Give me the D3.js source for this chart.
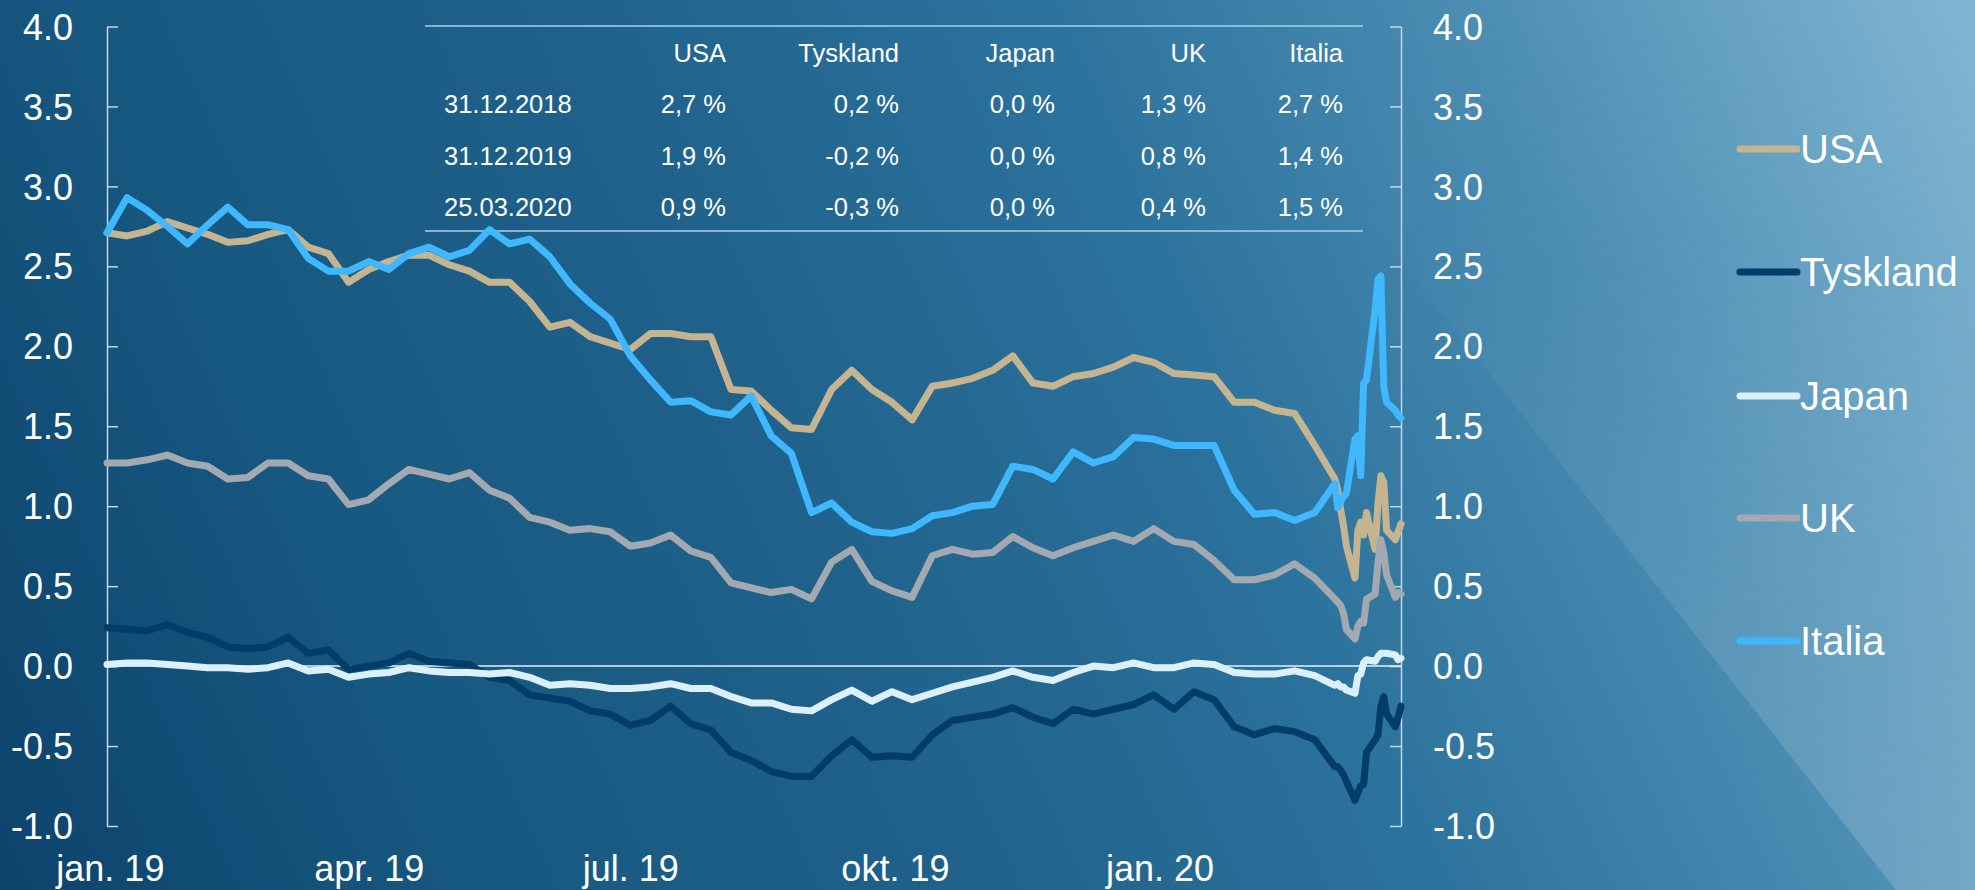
<!DOCTYPE html>
<html>
<head>
<meta charset="utf-8">
<script src="https://cdn.jsdelivr.net/npm/d3@7"></script>
<style>
  body { margin: 0; overflow: hidden; background: #0b416a; }
  svg { display: block; font-family: "Liberation Sans", Arial, sans-serif; }
</style>
</head>
<body>
<div id="chart"></div>
<script>
// 10-year government bond yields, USA / Tyskland / Japan / UK / Italia
(function () {
  ///////////////////////////////////////////////////////////// ! Data
  // weekly observations (mondays) + daily in march 2020
  const dates = [
    "2018-12-31", "2019-01-07", "2019-01-14", "2019-01-21", "2019-01-28", "2019-02-04", "2019-02-11", "2019-02-18",
    "2019-02-25", "2019-03-04", "2019-03-11", "2019-03-18", "2019-03-25", "2019-04-01", "2019-04-08", "2019-04-15",
    "2019-04-22", "2019-04-29", "2019-05-06", "2019-05-13", "2019-05-20", "2019-05-27", "2019-06-03", "2019-06-10",
    "2019-06-17", "2019-06-24", "2019-07-01", "2019-07-08", "2019-07-15", "2019-07-22", "2019-07-29", "2019-08-05",
    "2019-08-12", "2019-08-19", "2019-08-26", "2019-09-02", "2019-09-09", "2019-09-16", "2019-09-23", "2019-09-30",
    "2019-10-07", "2019-10-14", "2019-10-21", "2019-10-28", "2019-11-04", "2019-11-11", "2019-11-18", "2019-11-25",
    "2019-12-02", "2019-12-09", "2019-12-16", "2019-12-23", "2019-12-30", "2020-01-06", "2020-01-13", "2020-01-20",
    "2020-01-27", "2020-02-03", "2020-02-10", "2020-02-17", "2020-02-24",
    "2020-03-02", "2020-03-03", "2020-03-04", "2020-03-05", "2020-03-06", "2020-03-09", "2020-03-10", "2020-03-11",
    "2020-03-12", "2020-03-13", "2020-03-16", "2020-03-17", "2020-03-18", "2020-03-19", "2020-03-20", "2020-03-23",
    "2020-03-24", "2020-03-25",
  ];

  const usa = [
    2.71, 2.69, 2.72, 2.78, 2.74, 2.70, 2.65, 2.66, 2.70, 2.73,
    2.62, 2.58, 2.40, 2.48, 2.53, 2.57, 2.57, 2.51, 2.47, 2.40,
    2.40, 2.28, 2.12, 2.15, 2.06, 2.02, 1.98, 2.08, 2.08, 2.06,
    2.06, 1.73, 1.72, 1.60, 1.49, 1.48, 1.73, 1.85, 1.73, 1.65,
    1.54, 1.75, 1.77, 1.80, 1.85, 1.94, 1.77, 1.75, 1.81, 1.83,
    1.87, 1.93, 1.90, 1.83, 1.82, 1.81, 1.65, 1.65, 1.60, 1.58, 1.38,
    1.17, 1.10, 0.98, 0.88, 0.75, 0.55, 0.85, 0.90, 0.82, 0.96,
    0.73, 1.02, 1.19, 1.15, 0.85, 0.79, 0.84, 0.89,
  ];
  const tyskland = [
    0.24, 0.23, 0.22, 0.26, 0.21, 0.18, 0.12, 0.11, 0.12, 0.18,
    0.08, 0.10, -0.02, 0.00, 0.02, 0.08, 0.03, 0.02, 0.01, -0.07,
    -0.09, -0.18, -0.20, -0.22, -0.28, -0.30, -0.37, -0.34, -0.25, -0.36,
    -0.40, -0.54, -0.59, -0.66, -0.69, -0.69, -0.56, -0.46, -0.57, -0.56,
    -0.57, -0.43, -0.34, -0.32, -0.30, -0.26, -0.32, -0.36, -0.27, -0.30,
    -0.27, -0.24, -0.18, -0.27, -0.16, -0.21, -0.38, -0.43, -0.39, -0.41, -0.46,
    -0.63, -0.63, -0.65, -0.68, -0.72, -0.84, -0.79, -0.75, -0.74, -0.54,
    -0.46, -0.43, -0.25, -0.19, -0.30, -0.38, -0.32, -0.25,
  ];
  const japan = [
    0.01, 0.02, 0.02, 0.01, 0.00, -0.01, -0.01, -0.02, -0.01, 0.02,
    -0.03, -0.02, -0.07, -0.05, -0.04, -0.01, -0.03, -0.04, -0.04, -0.05,
    -0.04, -0.07, -0.12, -0.11, -0.12, -0.14, -0.14, -0.13, -0.11, -0.14,
    -0.14, -0.19, -0.23, -0.23, -0.27, -0.28, -0.21, -0.15, -0.22, -0.16,
    -0.21, -0.17, -0.13, -0.10, -0.07, -0.03, -0.07, -0.09, -0.04, 0.00,
    -0.01, 0.02, -0.01, -0.01, 0.02, 0.01, -0.04, -0.05, -0.05, -0.03, -0.06,
    -0.12, -0.11, -0.13, -0.13, -0.15, -0.17, -0.06, -0.05, 0.02, 0.04,
    0.03, 0.06, 0.08, 0.08, 0.08, 0.07, 0.04, 0.05,
  ];
  const uk = [
    1.27, 1.27, 1.29, 1.32, 1.27, 1.25, 1.17, 1.18, 1.27, 1.27,
    1.19, 1.17, 1.01, 1.04, 1.14, 1.23, 1.20, 1.17, 1.21, 1.10,
    1.05, 0.93, 0.90, 0.85, 0.86, 0.84, 0.75, 0.77, 0.82, 0.72,
    0.68, 0.52, 0.49, 0.46, 0.48, 0.42, 0.65, 0.73, 0.53, 0.47,
    0.43, 0.69, 0.73, 0.70, 0.71, 0.81, 0.74, 0.69, 0.74, 0.78,
    0.82, 0.78, 0.86, 0.78, 0.76, 0.66, 0.54, 0.54, 0.57, 0.64, 0.55,
    0.42, 0.40, 0.38, 0.33, 0.23, 0.17, 0.25, 0.28, 0.27, 0.42,
    0.45, 0.65, 0.79, 0.71, 0.57, 0.43, 0.46, 0.45,
  ];
  const italia = [
    2.71, 2.93, 2.85, 2.75, 2.64, 2.76, 2.87, 2.76, 2.76, 2.73,
    2.55, 2.47, 2.47, 2.53, 2.48, 2.58, 2.62, 2.56, 2.60, 2.73,
    2.64, 2.67, 2.56, 2.39, 2.27, 2.17, 1.94, 1.79, 1.65, 1.66,
    1.59, 1.57, 1.69, 1.44, 1.33, 0.96, 1.02, 0.90, 0.84, 0.83,
    0.86, 0.94, 0.96, 1.00, 1.01, 1.25, 1.23, 1.17, 1.34, 1.27,
    1.31, 1.43, 1.42, 1.38, 1.38, 1.38, 1.10, 0.95, 0.96, 0.91, 0.96,
    1.14, 0.99, 1.03, 1.06, 1.08, 1.42, 1.44, 1.19, 1.77, 1.79,
    2.23, 2.42, 2.44, 1.75, 1.65, 1.60, 1.57, 1.55,
  ];

  const seriesNames = ["USA", "Tyskland", "Japan", "UK", "Italia"];
  const seriesColors = ["#c4b48f", "#023d69", "#dcf0f9", "#a3a9b0", "#3fb8ff"];
  const seriesValues = [usa, tyskland, japan, uk, italia];

  // axis ticks
  const yTicks = [-1.0, -0.5, 0.0, 0.5, 1.0, 1.5, 2.0, 2.5, 3.0, 3.5, 4.0];
  const xTickDates = ["2019-01-01", "2019-04-01", "2019-07-01", "2019-10-01", "2020-01-01"];
  const xTickLabels = ["jan. 19", "apr. 19", "jul. 19", "okt. 19", "jan. 20"];

  // table in top of chart
  const tableDates = ["31.12.2018", "31.12.2019", "25.03.2020"];
  const tableRows = [
    ["2,7 %", "0,2 %", "0,0 %", "1,3 %", "2,7 %"],
    ["1,9 %", "-0,2 %", "0,0 %", "0,8 %", "1,4 %"],
    ["0,9 %", "-0,3 %", "0,0 %", "0,4 %", "1,5 %"],
  ];

  ///////////////////////////////////////////////////////////// ! Setup
  const W = 1975;
  const H = 890;
  const plot = { left: 107, right: 1401, top: 26.5, bottom: 826 };
  const parse = d3.timeParse("%Y-%m-%d");

  const svg = d3
    .select("#chart")
    .append("svg")
    .attr("width", W)
    .attr("height", H);

  ///////////////////////////////////////////////////////////// ! Background
  const defs = svg.append("defs");
  const bg = defs
    .append("linearGradient")
    .attr("id", "bg")
    .attr("gradientUnits", "userSpaceOnUse")
    .attr("x1", 0).attr("y1", H).attr("x2", W).attr("y2", 0);
  bg.append("stop").attr("offset", 0).attr("stop-color", "#0c436c");
  bg.append("stop").attr("offset", 0.2).attr("stop-color", "#175880");
  bg.append("stop").attr("offset", 0.4).attr("stop-color", "#1f618a");
  bg.append("stop").attr("offset", 0.6).attr("stop-color", "#2b729c");
  bg.append("stop").attr("offset", 0.78).attr("stop-color", "#4a8cb2");
  bg.append("stop").attr("offset", 1).attr("stop-color", "#82b7d3");

  const sheen = defs
    .append("linearGradient")
    .attr("id", "sheen")
    .attr("x1", 0).attr("y1", 0).attr("x2", 0).attr("y2", 1);
  sheen.append("stop").attr("offset", 0).attr("stop-color", "#fff").attr("stop-opacity", 0);
  sheen.append("stop").attr("offset", 0.3).attr("stop-color", "#fff").attr("stop-opacity", 0.01);
  sheen.append("stop").attr("offset", 1).attr("stop-color", "#fff").attr("stop-opacity", 0.17);

  svg.append("rect").attr("width", W).attr("height", H).attr("fill", "url(#bg)");
  svg
    .append("path")
    .attr("d", "M1196,0L1975,0L1975,890L1896,890Z")
    .attr("fill", "url(#sheen)");

  ///////////////////////////////////////////////////////////// ! Scales
  const x = d3
    .scaleTime()
    .domain([parse("2018-12-31"), parse("2020-03-25")])
    .range([plot.left, plot.right]);

  const y = d3.scaleLinear().domain([-1, 4]).range([plot.bottom, plot.top]);

  ///////////////////////////////////////////////////////////// ! Axes
  // plain hyphen as minus, like the original
  const fmt = (d) => d3.format(".1f")(d).replace("\u2212", "-");

  const leftAxis = svg
    .append("g")
    .attr("transform", `translate(${plot.left},0)`)
    .call(d3.axisLeft(y).tickValues(yTicks).tickFormat(fmt).tickSize(-11).tickSizeOuter(0).tickPadding(34));

  const rightAxis = svg
    .append("g")
    .attr("transform", `translate(${plot.right},0)`)
    .call(d3.axisRight(y).tickValues(yTicks).tickFormat(fmt).tickSize(-11).tickSizeOuter(0).tickPadding(32));

  [leftAxis, rightAxis].forEach((g) => {
    g.selectAll("path, line").attr("stroke", "#c3d7e5").attr("stroke-width", 1.5);
    g.selectAll("text")
      .attr("fill", "#fff")
      .style("font-size", "36px")
      .attr("dy", "0.35em");
  });

  const bottomAxis = svg
    .append("g")
    .attr("transform", `translate(0,${plot.bottom})`)
    .call(
      d3
        .axisBottom(x)
        .tickValues(xTickDates.map(parse))
        .tickFormat((d, i) => xTickLabels[i])
        .tickSize(0)
    );
  bottomAxis.select(".domain").remove();
  bottomAxis
    .selectAll("text")
    .attr("fill", "#fff")
    .attr("y", 55)
    .attr("dy", null)
    .style("font-size", "36px");

  // zero line
  svg
    .append("line")
    .attr("x1", plot.left)
    .attr("x2", plot.right)
    .attr("y1", y(0))
    .attr("y2", y(0))
    .attr("stroke", "#e6f1f8")
    .attr("stroke-width", 1.5);

  ///////////////////////////////////////////////////////////// ! Table
  const table = svg.append("g").style("font-size", "25.5px").attr("fill", "#fff");
  const colRight = [726, 899, 1055, 1206, 1343];
  const rowBase = [113, 165, 216];

  [26, 231].forEach((ly) => {
    table
      .append("line")
      .attr("x1", 425)
      .attr("x2", 1363)
      .attr("y1", ly)
      .attr("y2", ly)
      .attr("stroke", "#a9d2e8")
      .attr("stroke-width", 1.5);
  });

  seriesNames.forEach((name, i) => {
    table.append("text").attr("x", colRight[i]).attr("y", 62).attr("text-anchor", "end").text(name);
  });

  tableDates.forEach((dt, r) => {
    table.append("text").attr("x", 444).attr("y", rowBase[r]).text(dt);
    tableRows[r].forEach((v, i) => {
      table.append("text").attr("x", colRight[i]).attr("y", rowBase[r]).attr("text-anchor", "end").text(v);
    });
  });

  ///////////////////////////////////////////////////////////// ! Lines
  const line = d3
    .line()
    .x((d) => x(d.date))
    .y((d) => y(d.value));

  seriesValues.forEach((vals, i) => {
    const pts = vals.map((v, j) => ({ date: parse(dates[j]), value: v }));
    svg
      .append("path")
      .datum(pts)
      .attr("d", line)
      .attr("fill", "none")
      .attr("stroke", seriesColors[i])
      .attr("stroke-width", 7)
      .attr("stroke-linejoin", "round")
      .attr("stroke-linecap", "round");
  });

  ///////////////////////////////////////////////////////////// ! Legend
  const legend = svg.append("g");
  const legendY = [149, 272, 396, 518, 641];

  seriesNames.forEach((name, i) => {
    legend
      .append("line")
      .attr("x1", 1740)
      .attr("x2", 1797)
      .attr("y1", legendY[i])
      .attr("y2", legendY[i])
      .attr("stroke", seriesColors[i])
      .attr("stroke-width", 7)
      .attr("stroke-linecap", "round");
    legend
      .append("text")
      .attr("x", 1800)
      .attr("y", legendY[i])
      .attr("dy", "0.35em")
      .attr("fill", "#fff")
      .style("font-size", "40px")
      .text(name);
  });
})();
</script>
</body>
</html>
